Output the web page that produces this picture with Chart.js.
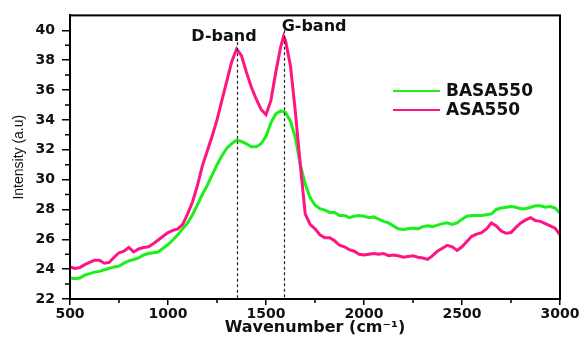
<!DOCTYPE html>
<html>
<head>
<meta charset="utf-8">
<title>Raman spectra</title>
<script src="https://cdn.jsdelivr.net/npm/chart.js@4.4.1/dist/chart.umd.min.js"></script>
<style>
  html, body { margin: 0; padding: 0; background: #ffffff; }
  canvas { display: block; }
</style>
</head>
<body>
<canvas id="raman" width="585" height="342"></canvas>
<script>
// Raman shift axis (cm-1), shared by both spectra
const wavenumbers = [
  500, 525, 550, 575, 600, 625, 650, 675, 700, 725, 750, 775, 800, 825, 850, 875, 900, 925, 950, 975,
  1000, 1025, 1050, 1075, 1100, 1125, 1150, 1175, 1200, 1225, 1250, 1275, 1300, 1325, 1350, 1375, 1400, 1425, 1450, 1475,
  1500, 1525, 1550, 1575, 1590, 1600, 1625, 1650, 1675, 1700, 1725, 1750, 1775, 1800, 1825, 1850, 1875, 1900, 1925, 1950, 1975,
  2000, 2025, 2050, 2075, 2100, 2125, 2150, 2175, 2200, 2225, 2250, 2275, 2300, 2325, 2350, 2375, 2400, 2425, 2450, 2475,
  2500, 2525, 2550, 2575, 2600, 2625, 2650, 2675, 2700, 2725, 2750, 2775, 2800, 2825, 2850, 2875, 2900, 2925, 2950, 2975, 3000
];

// Intensity (a.u) of BASA550
const basa550 = [
  23.4, 23.35, 23.4, 23.6, 23.7, 23.8, 23.85, 23.95, 24.05, 24.15, 24.2, 24.4, 24.55, 24.65, 24.75, 24.95, 25.05, 25.1, 25.15, 25.4,
  25.65, 25.95, 26.3, 26.7, 27.1, 27.65, 28.3, 29.0, 29.6, 30.3, 31.0, 31.6, 32.1, 32.4, 32.65, 32.55, 32.4, 32.2, 32.2, 32.4,
  32.9, 33.8, 34.4, 34.6, 34.55, 34.5, 33.9, 32.8, 31.0, 29.7, 28.8, 28.3, 28.05, 27.95, 27.8, 27.8, 27.6, 27.6, 27.45, 27.55, 27.6,
  27.55, 27.45, 27.5, 27.35, 27.2, 27.1, 26.9, 26.7, 26.65, 26.7, 26.75, 26.7, 26.85, 26.9, 26.85, 26.95, 27.05, 27.1, 27.0, 27.1,
  27.35, 27.55, 27.6, 27.6, 27.6, 27.65, 27.7, 28.0, 28.1, 28.15, 28.2, 28.15, 28.05, 28.05, 28.15, 28.25, 28.25, 28.15, 28.2, 28.1, 27.75
];

// Intensity (a.u) of ASA550
const asa550 = [
  24.15, 24.05, 24.1, 24.3, 24.45, 24.6, 24.6, 24.4, 24.45, 24.8, 25.1, 25.2, 25.45, 25.15, 25.35, 25.45, 25.5, 25.7, 25.95, 26.2,
  26.45, 26.6, 26.7, 27.0, 27.7, 28.5, 29.6, 30.9, 31.9, 32.9, 34.0, 35.3, 36.6, 37.9, 38.75, 38.3, 37.2, 36.2, 35.4, 34.7,
  34.35, 35.3, 37.2, 38.9, 39.6, 39.3, 37.6, 34.5, 31.0, 27.7, 27.0, 26.7, 26.3, 26.1, 26.1, 25.9, 25.6, 25.5, 25.3, 25.2, 25.0,
  24.95, 25.0, 25.05, 25.0, 25.05, 24.9, 24.95, 24.9, 24.8, 24.85, 24.9, 24.8, 24.75, 24.65, 24.9, 25.2, 25.4, 25.6, 25.5, 25.25,
  25.5, 25.85, 26.2, 26.35, 26.45, 26.7, 27.1, 26.9, 26.55, 26.4, 26.45, 26.8, 27.1, 27.3, 27.45, 27.25, 27.2, 27.05, 26.9, 26.75, 26.3
];

const seriesNames = ['BASA550', 'ASA550'];

// Band assignments marked on the spectra
const bandNames = ['D-band', 'G-band'];
const bandCentres = [1352, 1590];
const bandTops = [39.2, 40.0];

// Axis tick values
const xMajorTicks = [500, 1000, 1500, 2000, 2500, 3000];
const xMinorTicks = [750, 1250, 1750, 2250, 2750];
const yMajorTicks = [22, 24, 26, 28, 30, 32, 34, 36, 38, 40];
const yMinorTicks = [23, 25, 27, 29, 31, 33, 35, 37, 39];

const GREEN = '#1bef1b';
const PINK = '#ff1482';
const TICK_FONT = { family: 'DejaVu Sans', size: 14, weight: 'bold' };

const toPoints = values => values.map((v, i) => ({ x: wavenumbers[i], y: v }));

// Frame, minor ticks, band markers and legend
const decorations = {
  id: 'decorations',
  afterDatasetsDraw(chart) {
    const { ctx, chartArea: a, scales: { x, y } } = chart;
    ctx.save();
    ctx.strokeStyle = '#222';
    ctx.lineWidth = 1.2;
    ctx.setLineDash([3, 2.5]);
    bandCentres.forEach((wn, i) => {
      const px = Math.round(x.getPixelForValue(wn)) + 0.5;
      ctx.beginPath();
      ctx.moveTo(px, y.getPixelForValue(bandTops[i]));
      ctx.lineTo(px, a.bottom);
      ctx.stroke();
    });
    ctx.setLineDash([]);

    // band names
    ctx.fillStyle = '#111';
    ctx.font = 'bold 16px "DejaVu Sans"';
    ctx.textBaseline = 'alphabetic';
    ctx.textAlign = 'center';
    ctx.fillText(bandNames[0], x.getPixelForValue(bandCentres[0]) - 13, y.getPixelForValue(39.3));
    ctx.textAlign = 'left';
    ctx.fillText(bandNames[1], x.getPixelForValue(bandCentres[1]) - 2, y.getPixelForValue(39.95));
    ctx.restore();
  },
  afterDraw(chart) {
    const { ctx, chartArea: a, scales: { x, y } } = chart;
    ctx.save();
    // box around the plot
    ctx.strokeStyle = '#000';
    ctx.lineWidth = 2;
    ctx.strokeRect(a.left, a.top, a.right - a.left, a.bottom - a.top);

    // minor ticks
    ctx.lineWidth = 1.5;
    ctx.beginPath();
    xMinorTicks.forEach(v => {
      const px = x.getPixelForValue(v);
      ctx.moveTo(px, a.bottom);
      ctx.lineTo(px, a.bottom + 4);
    });
    yMinorTicks.forEach(v => {
      const py = y.getPixelForValue(v);
      ctx.moveTo(a.left, py);
      ctx.lineTo(a.left - 5, py);
    });
    ctx.stroke();

    // legend
    const colours = chart.data.datasets.map(d => d.borderColor);
    const legendX = 393, legendY = 91, rowGap = 19, sample = 47;
    ctx.font = 'bold 17px "DejaVu Sans"';
    ctx.textBaseline = 'middle';
    ctx.textAlign = 'left';
    seriesNames.forEach((name, i) => {
      const yy = legendY + i * rowGap;
      ctx.strokeStyle = colours[i];
      ctx.lineWidth = 2.2;
      ctx.beginPath();
      ctx.moveTo(legendX, yy);
      ctx.lineTo(legendX + sample, yy);
      ctx.stroke();
      ctx.fillStyle = '#111';
      ctx.fillText(name, legendX + sample + 6, yy + 1);
    });
    ctx.restore();
  }
};

new Chart(document.getElementById('raman'), {
  type: 'line',
  data: {
    datasets: [
      {
        label: seriesNames[0],
        data: toPoints(basa550),
        borderColor: GREEN,
        borderWidth: 3,
        pointRadius: 0,
        tension: 0,
        order: 1
      },
      {
        label: seriesNames[1],
        data: toPoints(asa550),
        borderColor: PINK,
        borderWidth: 3,
        pointRadius: 0,
        tension: 0,
        order: 0
      }
    ]
  },
  options: {
    responsive: false,
    animation: false,
    devicePixelRatio: 1,
    layout: { padding: { top: 15, right: 25, left: 0, bottom: 0 } },
    plugins: {
      legend: { display: false },
      tooltip: { enabled: false }
    },
    scales: {
      x: {
        type: 'linear',
        min: 500,
        max: 3000,
        afterBuildTicks: s => { s.ticks = xMajorTicks.map(v => ({ value: v })); },
        afterFit: s => { s.height = 43; },
        grid: { drawOnChartArea: false, color: '#000', lineWidth: 1.5, tickLength: 6 },
        border: { display: true, color: '#000', width: 2 },
        ticks: {
          color: '#111', font: TICK_FONT, padding: 1, maxRotation: 0, autoSkip: false,
          callback: v => String(v)
        },
        title: {
          display: true,
          text: 'Wavenumber (cm\u207B\u00B9)',
          color: '#111',
          font: { family: 'DejaVu Sans', size: 16, weight: 'bold' },
          padding: { top: 5, bottom: 5 }
        }
      },
      y: {
        type: 'linear',
        min: 22,
        max: 41,
        afterBuildTicks: s => { s.ticks = yMajorTicks.map(v => ({ value: v })); },
        afterFit: s => { s.width = 70; },
        grid: { drawOnChartArea: false, color: '#000', lineWidth: 1.5, tickLength: 8 },
        border: { display: true, color: '#000', width: 2 },
        ticks: { color: '#111', font: TICK_FONT, padding: 7, autoSkip: false, callback: v => String(v) },
        title: {
          display: true,
          text: 'Intensity (a.u)',
          color: '#111',
          font: { family: 'Liberation Sans', size: 14, weight: 'normal' },
          padding: { top: 11, bottom: 11 }
        }
      }
    }
  },
  plugins: [decorations]
});
</script>
</body>
</html>
